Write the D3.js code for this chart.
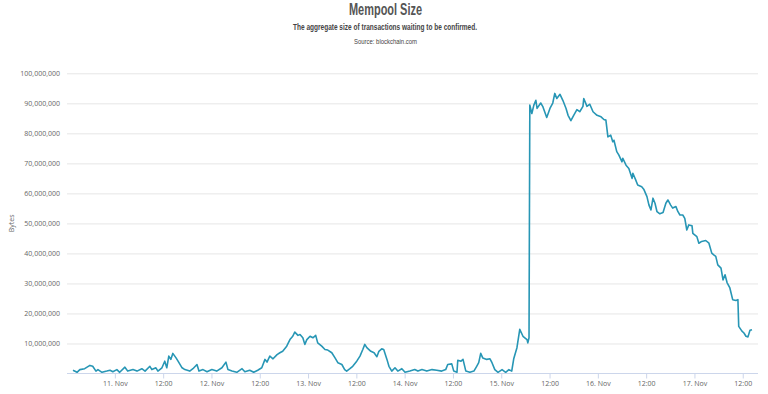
<!DOCTYPE html>
<html>
<head>
<meta charset="utf-8">
<script src="https://cdn.jsdelivr.net/npm/d3@7"></script>
<style>
    body { margin: 0; background: #fff; }
    svg { display: block; }
</style>
</head>
<body>
<div id="chart"></div>
<script>
// hours after 11 Nov 00:00
let hours = [-10.4, -9.4, -8.7, -7.5, -6.2, -5.5, -4.7, -4.2, -3.2, -2.0, -1.2, -0.5,
    0.5, 1.2, 2.5, 3.2, 4.5, 5.5, 6.7, 7.5, 8.7, 9.2, 10.2, 10.7, 11.7, 12.4, 12.9, 13.4,
    13.9, 14.4, 15.2, 15.7, 16.7, 17.4, 18.6, 19.4, 20.4, 20.9, 21.9, 22.9, 24.1, 25.3,
    26.6, 27.6, 28.1, 29.1, 30.3, 31.6, 32.3, 33.5, 34.5, 35.5, 36.5, 37.3, 37.8, 38.5,
    39.3, 40.3, 41.0, 41.7, 42.7, 43.5, 44.2, 44.7, 45.5, 46.0, 46.7, 47.2, 47.7, 48.5,
    49.2, 49.9, 50.4, 51.4, 52.2, 52.9, 53.9, 54.7, 55.4, 56.4, 57.1, 57.6, 58.4, 59.1,
    60.1, 60.9, 61.6, 62.1, 62.6, 63.6, 64.4, 65.1, 65.6, 66.3, 66.8, 67.6, 68.1, 68.8,
    69.6, 70.3, 71.3, 72.1, 73.3, 74.5, 75.3, 76.3, 77.5, 78.8, 80.0, 81.2, 82.2, 82.7,
    83.7, 84.2, 85.0, 85.2, 86.0, 86.5, 87.2, 88.2, 89.2, 89.9, 90.4, 90.9, 91.4, 92.4,
    93.2, 93.7, 94.4, 95.2, 96.2, 97.1, 97.9, 98.6, 99.1, 99.9, 100.6, 101.4, 102.4, 102.6,
    102.9, 103.1, 103.6, 104.1, 104.6, 104.9, 105.8, 106.3, 107.3, 108.1, 108.8, 109.3,
    109.8, 110.6, 111.3, 112.1, 112.6, 113.3, 114.0, 114.8, 115.5, 116.3, 116.5, 117.3,
    118.0, 118.8, 119.8, 120.8, 121.5, 122.0, 122.5, 123.2, 123.7, 124.0, 124.7, 125.2,
    126.0, 126.2, 127.0, 127.7, 128.5, 128.7, 129.4, 129.9, 130.9, 131.4, 132.2, 132.7,
    133.2, 133.7, 134.2, 134.7, 135.4, 136.2, 136.9, 137.4, 138.1, 138.6, 139.4, 139.9,
    140.4, 141.1, 141.6, 142.1, 142.6, 143.4, 143.6, 144.6, 145.1, 145.8, 146.8, 147.6,
    148.3, 148.8, 149.3, 149.8, 150.6, 151.1, 151.6, 152.1, 152.8, 153.5, 154.3, 154.8,
    155.0, 155.8, 156.3, 156.8, 157.3, 157.8, 158.3];
// mempool size in millions of bytes
let mbytes = [1.1, 0.4, 1.3, 1.6, 2.7, 2.4, 0.8, 1.3, 0.4, 0.8, 1.1, 0.6,
    1.3, 0.4, 2.1, 0.8, 1.3, 0.8, 1.6, 0.8, 2.4, 1.3, 1.9, 0.8, 1.9, 4.1, 1.9, 5.8,
    4.7, 6.7, 5.2, 4.1, 1.9, 1.3, 0.8, 1.6, 3.0, 0.8, 1.3, 0.6, 1.3, 0.8,
    1.9, 3.8, 1.3, 0.8, 0.4, 1.6, 0.6, 1.1, 0.4, 1.1, 1.9, 4.7, 3.8, 5.8,
    4.9, 6.3, 6.9, 7.4, 9.1, 11.3, 12.4, 13.8, 12.7, 13.0, 11.9, 9.7, 11.3, 12.4,
    11.9, 12.7, 10.2, 9.1, 8.0, 7.8, 6.9, 5.2, 3.6, 3.0, 1.3, 0.8, 1.6, 2.4,
    4.1, 5.8, 8.0, 9.7, 8.6, 7.4, 6.9, 5.6, 7.4, 8.2, 8.0, 4.7, 2.4, 0.8,
    1.9, 0.8, 1.6, 0.4, 0.8, 1.3, 0.8, 1.3, 0.8, 1.3, 1.1, 0.8, 1.3, 3.0,
    3.2, 0.8, 0.4, 4.4, 4.1, 4.7, 0.8, 0.4, 0.8, 2.4, 3.6, 6.7, 5.2, 4.7,
    4.9, 3.6, 1.3, 0.4, 1.3, 0.4, 1.3, 0.8, 4.9, 8.6, 14.7, 12.4, 11.3, 10.2,
    11.9, 89.4, 86.6, 89.4, 91.0, 88.3, 90.1, 89.0, 85.3, 88.3, 90.1, 93.3,
    91.6, 93.0, 91.0, 88.3, 86.0, 84.2, 86.0, 87.9, 87.2, 89.0, 91.6, 89.0,
    89.7, 87.2, 86.0, 85.5, 84.6, 84.4, 78.8, 79.4, 77.2, 77.7, 73.9, 72.8,
    70.5, 71.7, 69.4, 68.3, 65.0, 66.7, 64.5, 62.8, 62.2, 61.4, 58.9, 56.1,
    54.5, 58.4, 56.7, 53.9, 53.2, 53.6, 56.7, 57.8, 56.1, 55.1, 55.6, 53.9,
    52.8, 52.8, 51.7, 47.8, 49.5, 49.2, 46.7, 45.6, 43.4, 44.0, 44.3, 43.4,
    40.1, 39.5, 39.0, 36.2, 35.1, 31.2, 32.9, 30.3, 28.5, 24.6, 24.3, 24.6,
    15.7, 14.1, 13.5, 12.4, 12.2, 14.4, 14.6];
let yTicks = [10e6, 20e6, 30e6, 40e6, 50e6, 60e6, 70e6, 80e6, 90e6, 100e6];
// x ticks every 12 hours, in hours after 11 Nov 00:00
let xTicks = [0, 12, 24, 36, 48, 60, 72, 84, 96, 108, 120, 132, 144, 156];

let start = new Date(2017, 10, 11, 0, 0);
let data = hours.map(function (hr, i) {
    return { time: d3.timeMinute.offset(start, Math.round(hr * 60)), value: mbytes[i] * 1e6 };
});

let w = 768;
let h = 394;
let plotLeft = 67, plotRight = 758, plotTop = 73.3, plotBottom = 373.5;
let titleFont = '"Liberation Sans", Arial, sans-serif';

let viz = d3.select("#chart")
    .append("svg")
    .attr("width", w)
    .attr("height", h);

// titles (the original uses a condensed face, so squeeze them)
viz.append("text")
    .attr("x", 385.5).attr("y", 15)
    .attr("text-anchor", "middle")
    .attr("textLength", 73)
    .attr("lengthAdjust", "spacingAndGlyphs")
    .style("font-family", titleFont)
    .style("font-weight", "bold")
    .style("font-size", "16px")
    .attr("fill", "#555")
    .text("Mempool Size");
viz.append("text")
    .attr("x", 385).attr("y", 29.5)
    .attr("text-anchor", "middle")
    .attr("textLength", 184)
    .attr("lengthAdjust", "spacingAndGlyphs")
    .style("font-family", titleFont)
    .style("font-weight", "bold")
    .style("font-size", "8.5px")
    .attr("fill", "#444")
    .text("The aggregate size of transactions waiting to be confirmed.");
viz.append("text")
    .attr("x", 385.5).attr("y", 43.5)
    .attr("text-anchor", "middle")
    .attr("textLength", 63)
    .attr("lengthAdjust", "spacingAndGlyphs")
    .style("font-family", titleFont)
    .style("font-size", "7.5px")
    .attr("fill", "#444")
    .text("Source: blockchain.com");

let xScale = d3.scaleTime()
    .domain(d3.extent(data, function (d) { return d.time; }))
    .range([73, 752]);
let yScale = d3.scaleLinear()
    .domain([0, 100e6])
    .range([plotBottom, plotTop]);

// grid lines + y labels
let yAxis = d3.axisLeft(yScale)
    .tickValues(yTicks)
    .tickSize(-(plotRight - plotLeft))
    .tickPadding(7)
    .tickFormat(d3.format(","));
let yAxisGroup = viz.append("g")
    .attr("transform", "translate(" + plotLeft + ",0)")
    .call(yAxis);
yAxisGroup.select(".domain").remove();
yAxisGroup.selectAll("line").attr("stroke", "#e6e6e6");
yAxisGroup.selectAll("text")
    .attr("fill", "#666")
    .style("font-family", '"Open Sans", sans-serif')
    .style("font-size", "7px");

viz.append("text")
    .attr("transform", "translate(14," + ((plotTop + plotBottom) / 2) + ") rotate(-90)")
    .attr("text-anchor", "middle")
    .style("font-family", '"Open Sans", sans-serif')
    .style("font-size", "7px")
    .attr("fill", "#666")
    .text("Bytes");

// x axis
let xAxis = d3.axisBottom(xScale)
    .tickValues(xTicks.map(function (t) { return d3.timeHour.offset(start, t); }))
    .tickSize(5)
    .tickPadding(3)
    .tickFormat(function (d) {
        return d.getHours() == 0 ? d3.timeFormat("%-d. %b")(d) : d3.timeFormat("%H:%M")(d);
    });
let xAxisGroup = viz.append("g")
    .attr("transform", "translate(0," + plotBottom + ")")
    .call(xAxis);
xAxisGroup.select(".domain")
    .attr("d", "M" + plotLeft + ",0H" + plotRight)
    .attr("stroke", "#ccd6eb");
xAxisGroup.selectAll("line").attr("stroke", "#ccd6eb");
xAxisGroup.selectAll("text")
    .attr("fill", "#666")
    .style("font-family", '"Open Sans", sans-serif')
    .style("font-size", "7px");

// the series
let line = d3.line()
    .x(function (d) { return xScale(d.time); })
    .y(function (d) { return yScale(d.value); });
viz.append("path")
    .datum(data)
    .attr("d", line)
    .attr("fill", "none")
    .attr("stroke", "#2796b5")
    .attr("stroke-width", 1.6)
    .attr("stroke-linejoin", "round");
</script>
</body>
</html>
